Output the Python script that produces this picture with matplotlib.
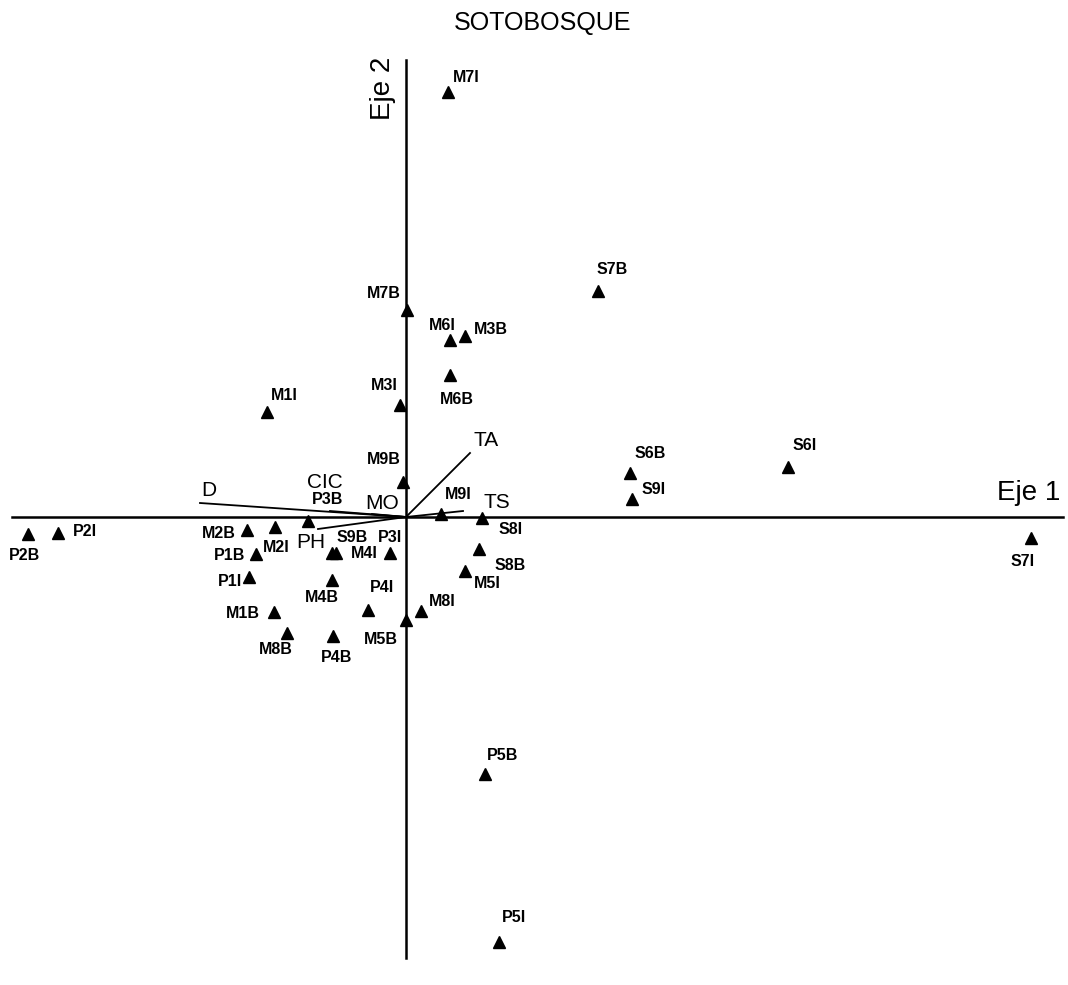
import matplotlib
matplotlib.use("Agg")
import matplotlib.pyplot as plt

# sample scores (Eje 1, Eje 2)
names = ["M7I", "S7B", "M7B", "M6I", "M3B", "M6B", "M3I", "M1I", "M9B",
         "S6B", "S9I", "S6I", "S7I", "P2B", "P2I", "M2B", "M2I", "P3B",
         "P1B", "S9B", "M4I", "P3I", "P1I", "M4B", "P4I", "M1B", "M5B",
         "M8I", "M8B", "P4B", "M9I", "S8I", "S8B", "M5I", "P5B", "P5I"]
eje1 = [0.42, 1.92, 0.01, 0.44, 0.59, 0.44, -0.06, -1.39, -0.03,
        2.24, 2.26, 3.82, 6.25, -3.78, -3.48, -1.59, -1.31, -0.98,
        -1.50, -0.74, -0.70, -0.16, -1.57, -0.74, -0.38, -1.32, 0.00,
        0.15, -1.19, -0.73, 0.35, 0.76, 0.73, 0.59, 0.79, 0.93]
eje2 = [4.25, 2.26, 2.07, 1.77, 1.81, 1.42, 1.12, 1.05, 0.35,
        0.44, 0.18, 0.50, -0.21, -0.17, -0.16, -0.13, -0.10, -0.04,
        -0.37, -0.36, -0.36, -0.36, -0.60, -0.63, -0.93, -0.95, -1.03,
        -0.94, -1.16, -1.19, 0.03, -0.01, -0.32, -0.54, -2.57, -4.25]

# environmental vectors
vec_names = ["D", "CIC", "MO", "PH", "TA", "TS"]
vec_x = [-2.06, -0.76, -0.34, -0.88, 0.64, 0.57]
vec_y = [0.14, 0.06, 0.03, -0.12, 0.64, 0.06]

# label offsets in pixels
lab_off = {
    "M7I": (18, 15), "S7B": (14, 22), "M7B": (-23, 17), "M6I": (-8, 15),
    "M3B": (26, 7), "M6B": (7, -25), "M3I": (-16, 20), "M1I": (17, 16),
    "M9B": (-19, 22), "S6B": (20, 20), "S9I": (22, 10), "S6I": (17, 22),
    "S7I": (-8, -24), "P2B": (-4, -22), "P2I": (27, 1), "M2B": (-28, -4),
    "M2I": (1, -21), "P3B": (20, 22), "P1B": (-26, -1), "S9B": (20, 16),
    "M4I": (28, -1), "P3I": (0, 16), "P1I": (-19, -5), "M4B": (-10, -18),
    "P4I": (14, 22), "M1B": (-31, -2), "M5B": (-25, -19), "M8I": (21, 10),
    "M8B": (-11, -17), "P4B": (4, -21), "M9I": (17, 20), "S8I": (29, -12),
    "S8B": (31, -16), "M5I": (22, -13), "P5B": (18, 19), "P5I": (15, 24),
}
vec_off = {"D": (9, 13), "CIC": (-5, 29), "MO": (10, 11),
           "PH": (-7, -14), "TA": (16, 13), "TS": (34, 9)}

fig = plt.figure(figsize=(10.68, 9.85), dpi=100)
ax = fig.add_axes([0, 0, 1, 1])
ax.set_xlim(-4.06, 6.62)
ax.set_ylim(-4.68, 5.17)
ax.axis("off")

ax.axhline(0, xmin=12 / 1068, xmax=1063 / 1068, color="black", lw=1.8)
ax.axvline(0, ymin=27 / 985, ymax=925 / 985, color="black", lw=1.8)

for n, x, y in zip(vec_names, vec_x, vec_y):
    ax.plot([0, x], [0, y], color="black", lw=1.3)
    ax.annotate(n, (x, y), xytext=vec_off[n], textcoords="offset pixels",
                ha="center", va="center", fontsize=15,
                family=["Liberation Sans", "DejaVu Sans"])

ax.plot(eje1, eje2, "^", color="black", ms=8.5, ls="none")
for n, x, y in zip(names, eje1, eje2):
    ax.annotate(n, (x, y), xytext=lab_off[n], textcoords="offset pixels",
                ha="center", va="center", fontsize=11.5, fontweight="bold",
                family=["Liberation Sans Narrow", "Liberation Sans"])

fig.text(543 / 1068, 1 - 23 / 985, "SOTOBOSQUE", ha="center", va="center",
         fontsize=18, family=["Liberation Sans", "DejaVu Sans"])
fig.text(1029 / 1068, 1 - 493 / 985, "Eje 1", ha="center", va="center",
         fontsize=20, family=["Liberation Sans", "DejaVu Sans"])
fig.text(383 / 1068, 1 - 88 / 985, "Eje 2", ha="center", va="center",
         rotation=90, fontsize=20, family=["Liberation Sans", "DejaVu Sans"])

fig.savefig("out.png", dpi=100, facecolor="white")
